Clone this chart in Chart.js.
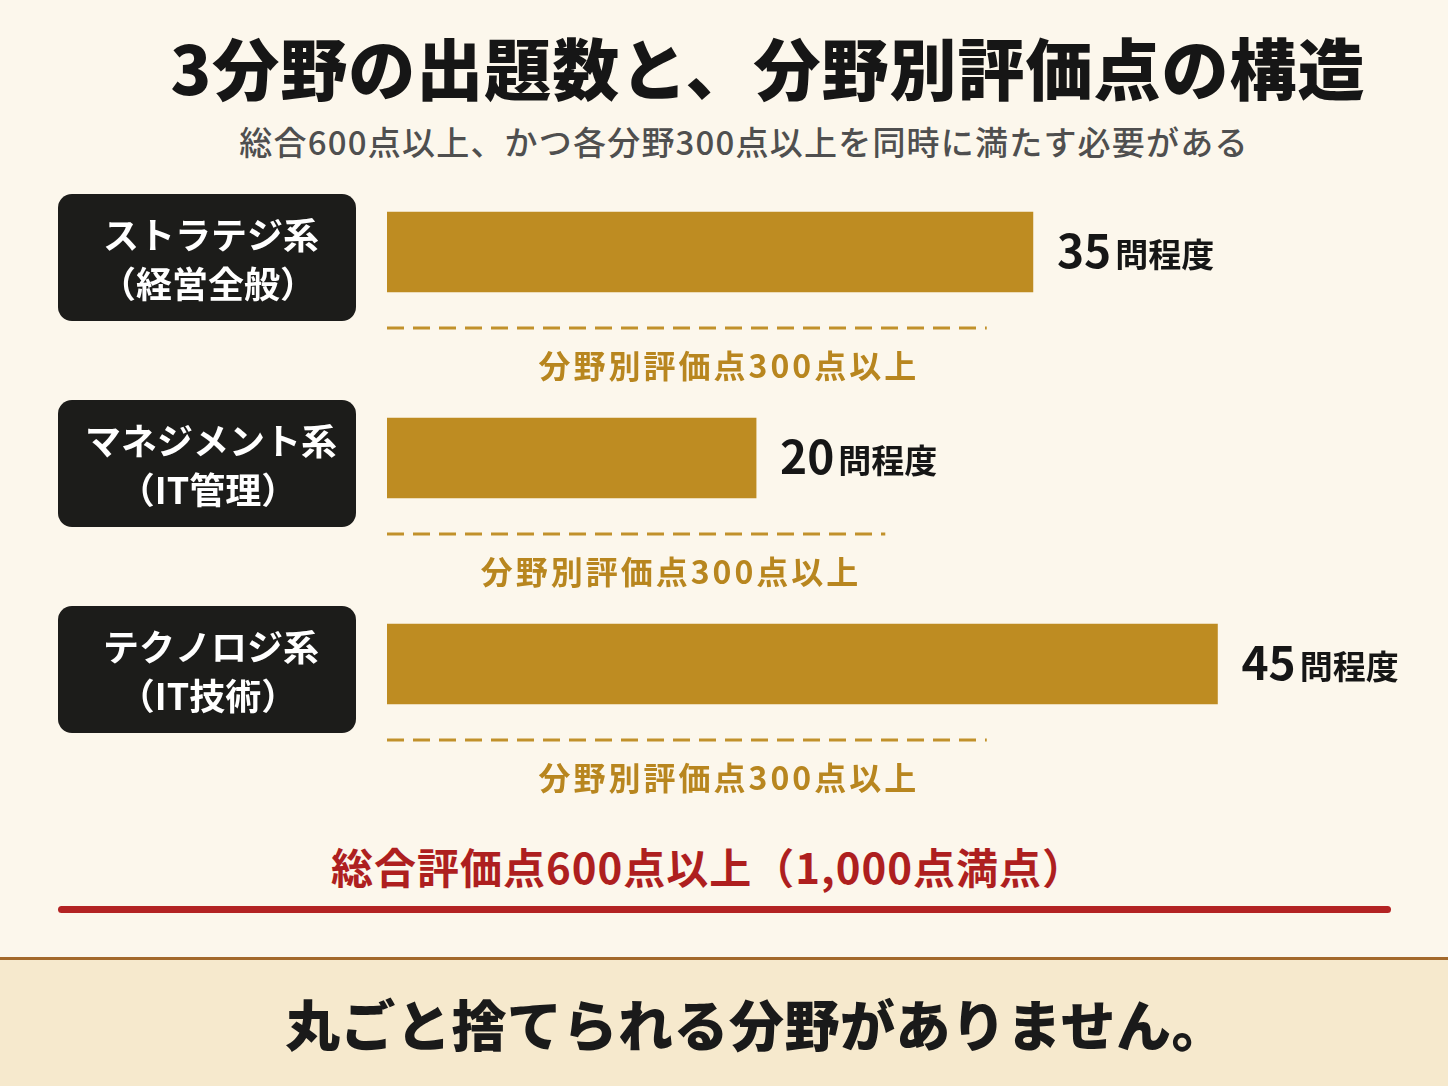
<!DOCTYPE html>
<html lang="ja">
<head>
<meta charset="utf-8">
<script src="https://cdn.jsdelivr.net/npm/chart.js@4"></script>
<style>
  html, body { margin: 0; padding: 0; }
  body {
    width: 1448px; height: 1086px; position: relative; overflow: hidden;
    background: #fcf7ec;
    font-family: "Noto Sans CJK JP", "Noto Sans", sans-serif;
  }
  .txt { position: absolute; text-align: center; white-space: nowrap; }
  #title { left: 168px; width: 1200px; top: 29px; font-size: 67px; line-height: 74px; font-weight: 900; color: #161616; letter-spacing: 1px; }
  #subtitle { left: 144px; width: 1200px; top: 122px; font-size: 33px; line-height: 38px; font-weight: 500; color: #4f4f4f; letter-spacing: 1.2px; }
  #total { left: 108px; width: 1200px; top: 842px; font-size: 42px; line-height: 48px; font-weight: 700; color: #ae1f1f; letter-spacing: 1px; }
  #redline { position: absolute; left: 58px; top: 906px; width: 1333px; height: 7px; border-radius: 4px; background: #b32323; }
  #band { position: absolute; left: 0; top: 957px; width: 1448px; height: 129px; background: #f6e9cd; border-top: 3px solid #a3692b; }
  #message { left: 156px; width: 1200px; top: 990px; font-size: 55px; line-height: 64px; font-weight: 900; color: #1a1a1a; letter-spacing: 0.5px; }
  #chart { position: absolute; left: 0; top: 140px; }
</style>
</head>
<body>
<div id="title" class="txt">3分野の出題数と、分野別評価点の構造</div>
<div id="subtitle" class="txt">総合600点以上、かつ各分野300点以上を同時に満たす必要がある</div>
<canvas id="chart" width="1448" height="680"></canvas>
<div id="total" class="txt">総合評価点600点以上（1,000点満点）</div>
<div id="redline"></div>
<div id="band"></div>
<div id="message" class="txt">丸ごと捨てられる分野がありません。</div>

<script>
// categories (two lines each) and question counts
const fieldNames = ["ストラテジ系", "マネジメント系", "テクノロジ系"];
const fieldSubs = ["（経営全般）", "（IT管理）", "（IT技術）"];
const questionCounts = [35, 20, 45];
const countUnit = "問程度";
// dashed "pass" line lengths, in the same units as the bars
const passLine = [32.5, 27, 32.5];
const passLabel = "分野別評価点300点以上";

const GOLD = "#be8c22";
const FONT = "'Noto Sans CJK JP', 'Noto Sans', sans-serif";

/*
   custom drawing: label boxes on the left, value text, dashed lines
*/
const decorations = {
    id: "decorations",
    afterDatasetsDraw(chart) {
        const ctx = chart.ctx;
        const x = chart.scales.x;
        const y = chart.scales.y;

        fieldNames.forEach((name, i) => {
            const cy = y.getPixelForValue(i);

            // dark rounded label box
            ctx.save();
            ctx.fillStyle = "#1c1c1a";
            ctx.beginPath();
            ctx.roundRect(58, cy - 58, 298, 127, 14);
            ctx.fill();
            ctx.fillStyle = "#ffffff";
            ctx.textAlign = "center";
            ctx.textBaseline = "middle";
            ctx.font = "bold 36px " + FONT;
            ctx.fillText(name, 211, cy - 17);
            ctx.fillText(fieldSubs[i], 208, cy + 32);
            ctx.restore();

            // value label next to bar
            const end = x.getPixelForValue(questionCounts[i]);
            ctx.save();
            ctx.textAlign = "left";
            ctx.textBaseline = "alphabetic";
            ctx.fillStyle = "#161616";
            ctx.font = "bold 46px " + FONT;
            const num = String(questionCounts[i]);
            ctx.fillText(num, end + 24, cy + 16);
            const w = ctx.measureText(num).width;
            ctx.font = "bold 33px " + FONT;
            ctx.fillText(countUnit, end + 28 + w, cy + 15);
            ctx.restore();

            // dashed pass line + label
            const x0 = x.getPixelForValue(0);
            const x1 = x.getPixelForValue(passLine[i]);
            const ly = cy + 76;
            ctx.save();
            ctx.strokeStyle = "#c1912b";
            ctx.lineWidth = 3;
            ctx.setLineDash([17, 9]);
            ctx.beginPath();
            ctx.moveTo(x0, ly);
            ctx.lineTo(x1, ly);
            ctx.stroke();
            ctx.setLineDash([]);
            ctx.fillStyle = "#b8861f";
            ctx.font = "bold 32px " + FONT;
            ctx.letterSpacing = "3px";
            ctx.textAlign = "center";
            ctx.textBaseline = "middle";
            ctx.fillText(passLabel, x0 + (x1 - x0) * 0.57, ly + 38);
            ctx.restore();
        });
    }
};

new Chart(document.getElementById("chart"), {
    type: "bar",
    data: {
        labels: fieldNames,
        datasets: [{
            data: questionCounts,
            backgroundColor: GOLD,
            borderWidth: 0,
            barThickness: 80
        }]
    },
    options: {
        indexAxis: "y",
        responsive: false,
        animation: false,
        layout: {
            padding: { left: 387, right: 46, top: 9, bottom: 53 }
        },
        scales: {
            x: { min: 0, max: 55, display: false },
            y: { display: false }
        },
        plugins: {
            legend: { display: false },
            tooltip: { enabled: false }
        }
    },
    plugins: [decorations]
});
</script>
</body>
</html>
